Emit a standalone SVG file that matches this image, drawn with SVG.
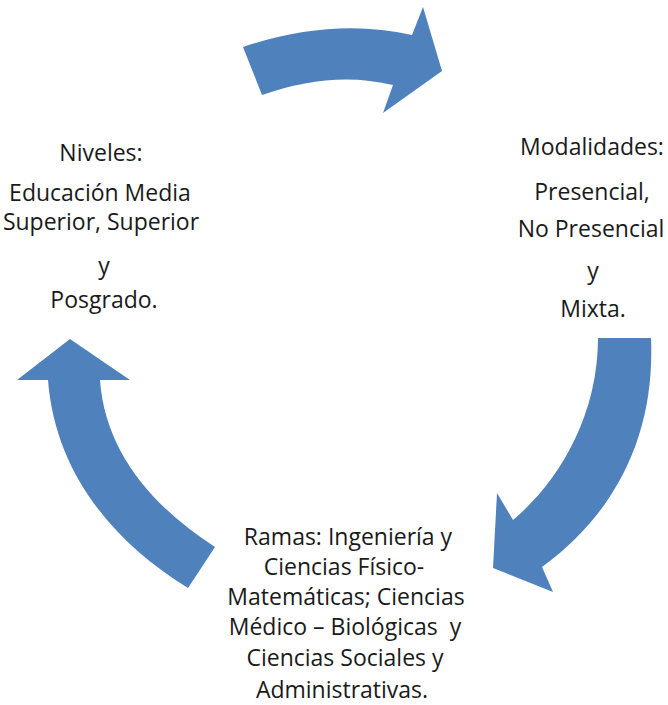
<svg xmlns="http://www.w3.org/2000/svg" width="668" height="705" viewBox="0 0 668 705">
<style>
  .arrow { fill: #4F81BD; }
  .lbl { font-family: "Open Sans", "Liberation Sans", sans-serif; font-size: 23px; fill: #1a1a1a; text-anchor: middle; white-space: pre; }
</style>
<rect width="668" height="705" fill="#ffffff"/>
<g id="connectors">
  <path id="arrow-top" class="arrow" d="M 243,47 Q 332,17 412,35 L 423,7 L 442,71 L 383,113 L 393,85 Q 332,70 262,95 Z"/>
  <path id="arrow-right" class="arrow" d="M 598,338 L 651,338 C 655,430 620,510 542,567 L 553,592 L 493,568 L 497,493 L 513,520 C 555,485 598,420 598,338 Z"/>
  <path id="arrow-left" class="arrow" d="M 70,339 L 130,380 L 100,380 C 105,450 150,505 215,547 L 188,588 C 110,540 55,470 48,380 L 17,380 Z"/>
</g>
<g id="node-niveles">
  <text class="lbl" x="101" y="161">Niveles:</text>
  <text class="lbl" x="100" y="201">Educación Media</text>
  <text class="lbl" x="101" y="230">Superior, Superior</text>
  <text class="lbl" x="104" y="274">y</text>
  <text class="lbl" x="104" y="308">Posgrado.</text>
</g>
<g id="node-modalidades">
  <text class="lbl" x="592" y="155">Modalidades:</text>
  <text class="lbl" x="592" y="200">Presencial,</text>
  <text class="lbl" x="591" y="237">No Presencial</text>
  <text class="lbl" x="593" y="279">y</text>
  <text class="lbl" x="593" y="317">Mixta.</text>
</g>
<g id="node-ramas">
  <text class="lbl" x="348" y="545">Ramas: Ingeniería y</text>
  <text class="lbl" x="344" y="575">Ciencias Físico-</text>
  <text class="lbl" x="346" y="605">Matemáticas; Ciencias</text>
  <text class="lbl" x="345" y="635">Médico – Biológicas  y</text>
  <text class="lbl" x="345" y="666">Ciencias Sociales y</text>
  <text class="lbl" x="342" y="698">Administrativas.</text>
</g>
</svg>
